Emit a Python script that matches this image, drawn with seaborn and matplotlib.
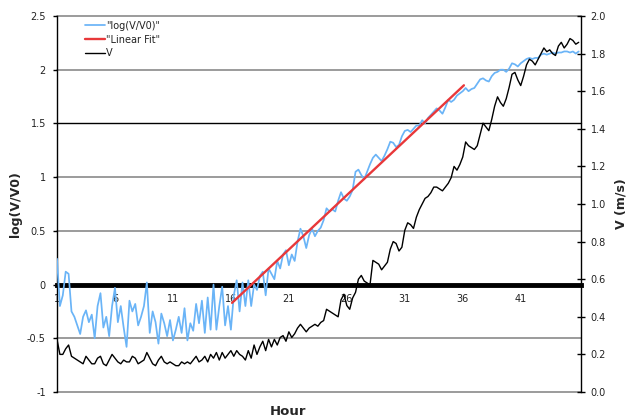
import numpy as np
import pandas as pd
import matplotlib
matplotlib.use("Agg")
import matplotlib.pyplot as plt
import seaborn as sns

# ---------------- data ----------------
step = 0.25
# log(V/V0), one row per hour (quarter-hour samples), hour 1 .. 46
log_ratio = [
    0.24, -0.2, -0.1, 0.12,
    0.1, -0.25, -0.3, -0.38,
    -0.46, -0.3, -0.24, -0.35,
    -0.28, -0.5, -0.2, -0.08,
    -0.4, -0.3, -0.48, -0.2,
    -0.03, -0.35, -0.2, -0.4,
    -0.58, -0.15, -0.25, -0.18,
    -0.38, -0.3, -0.2, 0.02,
    -0.45, -0.25, -0.35, -0.55,
    -0.27, -0.36, -0.48, -0.33,
    -0.52, -0.42, -0.3, -0.45,
    -0.22, -0.52, -0.36, -0.43,
    -0.18, -0.36, -0.15, -0.45,
    -0.12, -0.42, 0.0, -0.42,
    -0.2, -0.02, -0.38, -0.2,
    -0.42, -0.1, 0.04, -0.25,
    0.02, -0.2, 0.04, -0.2,
    0.0, -0.05, 0.08, 0.12,
    -0.1, 0.15, 0.1, 0.05,
    0.22, 0.15, 0.28, 0.32,
    0.18, 0.28, 0.22, 0.4,
    0.52, 0.45, 0.34, 0.46,
    0.52, 0.45, 0.5, 0.53,
    0.6, 0.71, 0.68, 0.70,
    0.68, 0.78, 0.86, 0.80,
    0.78, 0.82, 0.88, 1.05,
    1.07, 1.02, 0.98, 1.05,
    1.12, 1.18, 1.21, 1.18,
    1.15, 1.2, 1.26, 1.33,
    1.32, 1.28, 1.3, 1.38,
    1.43, 1.44, 1.42, 1.45,
    1.48, 1.48, 1.53, 1.5,
    1.55, 1.58, 1.61, 1.64,
    1.62, 1.59, 1.65, 1.72,
    1.7, 1.72, 1.76, 1.78,
    1.80, 1.83, 1.80, 1.82,
    1.83, 1.87, 1.91, 1.92,
    1.9, 1.89, 1.94, 1.97,
    1.98, 2.0, 2.0, 1.98,
    2.01, 2.06, 2.05, 2.03,
    2.06, 2.08, 2.1, 2.11,
    2.1, 2.11, 2.11, 2.14,
    2.15, 2.14, 2.15, 2.16,
    2.15, 2.16, 2.16, 2.17,
    2.17, 2.16, 2.17, 2.15,
    2.17,
]
# V (m/s), same sampling
speed = [
    0.28, 0.2, 0.2, 0.23,
    0.25, 0.19, 0.18, 0.17,
    0.16, 0.15, 0.19, 0.17,
    0.15, 0.15, 0.18, 0.19,
    0.15, 0.14, 0.17, 0.2,
    0.18, 0.16, 0.15, 0.17,
    0.16, 0.16, 0.19, 0.18,
    0.15, 0.16, 0.17, 0.21,
    0.18, 0.15, 0.14, 0.17,
    0.19, 0.16, 0.15, 0.16,
    0.15, 0.14, 0.14, 0.16,
    0.15, 0.16, 0.15, 0.17,
    0.19, 0.16, 0.17, 0.19,
    0.16, 0.2, 0.18, 0.21,
    0.17, 0.21, 0.18, 0.2,
    0.22, 0.19, 0.22, 0.2,
    0.19, 0.17, 0.22, 0.18,
    0.25, 0.2, 0.24, 0.27,
    0.22, 0.28, 0.24, 0.28,
    0.25, 0.29, 0.3, 0.27,
    0.32, 0.29, 0.31, 0.34,
    0.36, 0.34, 0.32, 0.34,
    0.35, 0.36, 0.35, 0.37,
    0.38, 0.44, 0.43, 0.42,
    0.41, 0.40, 0.49, 0.52,
    0.46, 0.44, 0.5, 0.53,
    0.6, 0.62, 0.59, 0.58,
    0.57, 0.70, 0.69, 0.68,
    0.65, 0.67, 0.69, 0.76,
    0.80, 0.79, 0.75, 0.77,
    0.86, 0.9, 0.89, 0.87,
    0.93, 0.97, 1.0, 1.03,
    1.04, 1.06, 1.09, 1.09,
    1.08, 1.07, 1.09, 1.11,
    1.14, 1.2, 1.18, 1.21,
    1.25, 1.33, 1.31, 1.3,
    1.29, 1.31, 1.37, 1.43,
    1.41, 1.39, 1.45, 1.52,
    1.57, 1.54, 1.52, 1.56,
    1.62, 1.69, 1.7, 1.66,
    1.63, 1.68, 1.74, 1.77,
    1.76, 1.74, 1.77, 1.80,
    1.83, 1.81, 1.82, 1.80,
    1.79, 1.84, 1.86, 1.83,
    1.85, 1.88, 1.87, 1.85,
    1.86,
]
hours = [1 + step * i for i in range(len(speed))]

fit_hours = [16.1, 36.1]
fit_values = [-0.17, 1.855]

xtick_vals = [1, 6, 11, 16, 21, 26, 31, 36, 41]
xtick_labels = ["1", "6", "11", "16", "21", "26", "31", "36", "41"]
left_ticks = [-1, -0.5, 0, 0.5, 1, 1.5, 2, 2.5]
left_labels = ["-1", "-0.5", "0", "0.5", "1", "1.5", "2", "2.5"]
right_ticks = [0.0, 0.2, 0.4, 0.6, 0.8, 1.0, 1.2, 1.4, 1.6, 1.8, 2.0]
right_labels = ["0.0", "0.2", "0.4", "0.6", "0.8", "1.0", "1.2", "1.4", "1.6", "1.8", "2.0"]

series_names = ['"log(V/V0)"', '"Linear Fit"', "V"]

df = pd.DataFrame({"hour": hours, "log": log_ratio, "V": speed})
fit_df = pd.DataFrame({"hour": fit_hours, "fit": fit_values})

# ---------------- style ----------------
sns.set_style("white")
plt.rcParams["font.family"] = ["DejaVu Sans"]

W, H = 631, 420
fig = plt.figure(figsize=(W / 100, H / 100), dpi=100)
fig.subplots_adjust(left=57 / W, right=581 / W, bottom=(H - 392) / H, top=(H - 16) / H)
ax = fig.add_subplot(111)
ax2 = ax.twinx()

blue = "#6AB4F7"
red = "#E8383A"

sns.lineplot(data=df, x="hour", y="log", ax=ax, color=blue, lw=1.25,
             label=series_names[0], legend=False, zorder=3)
sns.lineplot(data=fit_df, x="hour", y="fit", ax=ax, color=red, lw=1.7,
             label=series_names[1], legend=False, zorder=4)
sns.lineplot(data=df, x="hour", y="V", ax=ax2, color="black", lw=1.0,
             label=series_names[2], legend=False)

ax.set_xlim(1, 46.2)
ax.set_ylim(-1, 2.5)
ax2.set_ylim(0, 2.0)

# gridlines
ax.set_yticks(left_ticks)
ax.set_yticklabels(left_labels)
ax.yaxis.grid(True, color="#808080", lw=1.1)
ax.xaxis.grid(False)
for tv, gl in zip(left_ticks, ax.get_ygridlines()):
    gl.set_clip_on(False)
    if tv == 1.5:
        gl.set_color("black")
        gl.set_lw(1.0)
    if tv == 0:
        gl.set_visible(False)
ax.set_axisbelow(True)

# spines
ax.spines["top"].set_visible(False)
ax.spines["right"].set_visible(False)
ax.spines["left"].set_color("black")
ax.spines["left"].set_lw(1.0)
ax.spines["bottom"].set_position(("data", 0))
ax.spines["bottom"].set_color("black")
ax.spines["bottom"].set_lw(3.5)
ax.spines["bottom"].set_zorder(2.6)
for s in ["top", "left", "bottom"]:
    ax2.spines[s].set_visible(False)
ax2.spines["right"].set_color("black")
ax2.spines["right"].set_lw(1.0)

# ticks
ax.set_xticks(xtick_vals)
ax.set_xticklabels(xtick_labels)
ax.tick_params(axis="x", length=0, pad=7, labelsize=7, colors="#222222")
ax.tick_params(axis="y", direction="out", length=3, width=1, pad=5,
               labelsize=7, left=True, colors="black", labelcolor="#222222")
ax2.set_yticks(right_ticks)
ax2.set_yticklabels(right_labels)
ax2.tick_params(axis="y", direction="inout", length=6, width=1, pad=4,
                labelsize=7, right=True, colors="black", labelcolor="#222222")

# labels
ax.set_xlabel("Hour", fontsize=9.5, fontweight="bold")
ax.xaxis.set_label_coords((288 - 57) / 524, -0.035)
ax.set_ylabel("log(V/V0)", fontsize=9, fontweight="bold")
ax.yaxis.set_label_coords(-0.066, 0.5)
ax2.set_ylabel("V (m/s)", fontsize=9, fontweight="bold")
ax2.yaxis.set_label_coords(1.063, 0.5)

# legend
handles = ax.get_lines()[:2] + ax2.get_lines()[:1]
leg = ax.legend(handles, series_names, loc="upper left", bbox_to_anchor=(0.045, 1.0),
                frameon=False, fontsize=7, handlelength=2.0, handletextpad=0.15,
                labelspacing=0.38, borderpad=0.5, borderaxespad=0)
for t in leg.get_texts():
    t.set_color("#222222")
ax.set_zorder(ax2.get_zorder() - 1)
ax2.patch.set_visible(False)

fig.savefig("out.png", dpi=100)
